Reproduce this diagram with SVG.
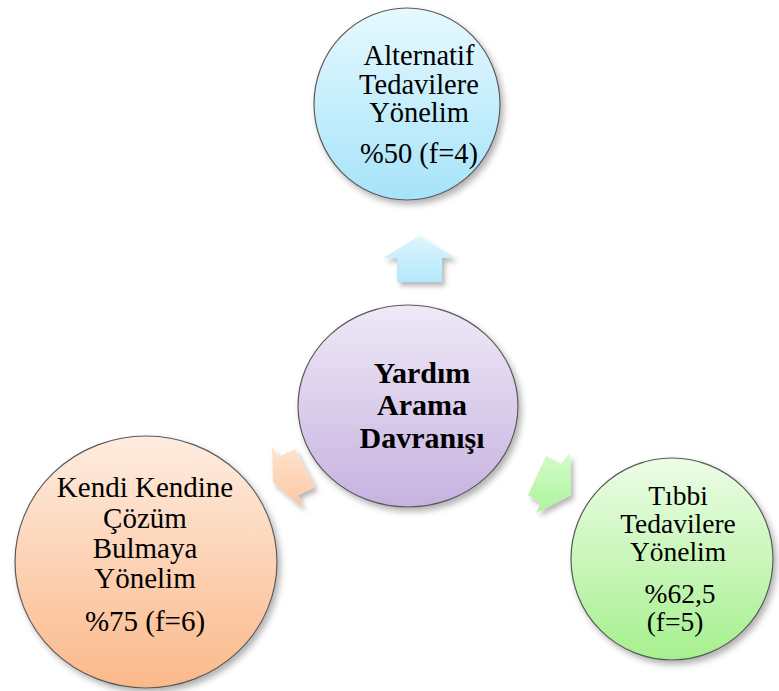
<svg xmlns="http://www.w3.org/2000/svg" width="779" height="691" viewBox="0 0 779 691">
<defs>
<style>
.node{stroke:#5a5a5a;stroke-width:1.2;filter:url(#sh)}
.t{font-family:"Liberation Serif","Times New Roman",serif;font-size:28.5px;fill:#000;text-anchor:middle}
.s{font-size:29px}
.r{font-size:27.5px}
.b{font-weight:bold;font-size:30px}
.arr{filter:url(#sh2)}
</style>
<filter id="sh" x="-20%" y="-20%" width="140%" height="140%">
<feDropShadow dx="3" dy="4" stdDeviation="3" flood-color="#000" flood-opacity="0.3"/>
</filter>
<filter id="sh2" x="-30%" y="-30%" width="160%" height="160%">
<feDropShadow dx="3" dy="4" stdDeviation="2.5" flood-color="#000" flood-opacity="0.28"/>
</filter>
<linearGradient id="gBlue" x1="0" y1="0" x2="0" y2="1">
<stop offset="0" stop-color="#e6f9ff"/><stop offset="1" stop-color="#a6e3f9"/>
</linearGradient>
<linearGradient id="gPurple" x1="0" y1="0" x2="0" y2="1">
<stop offset="0" stop-color="#efe9f7"/><stop offset="1" stop-color="#c6b2e0"/>
</linearGradient>
<linearGradient id="gOrange" x1="0" y1="0" x2="0" y2="1">
<stop offset="0" stop-color="#feece0"/><stop offset="1" stop-color="#fbb98a"/>
</linearGradient>
<linearGradient id="gGreen" x1="0" y1="0" x2="0" y2="1">
<stop offset="0" stop-color="#ecfde6"/><stop offset="1" stop-color="#a6f08e"/>
</linearGradient>
<linearGradient id="aBlue" x1="0" y1="0" x2="0" y2="1">
<stop offset="0" stop-color="#dcf6fe"/><stop offset="1" stop-color="#b2e8fb"/>
</linearGradient>
<linearGradient id="aOrange" x1="0" y1="0" x2="0" y2="1">
<stop offset="0" stop-color="#fee4d0"/><stop offset="1" stop-color="#fdc6a0"/>
</linearGradient>
<linearGradient id="aGreen" x1="0" y1="0" x2="0" y2="1">
<stop offset="0" stop-color="#d4fbc8"/><stop offset="1" stop-color="#abf59c"/>
</linearGradient>
</defs>
<rect width="779" height="691" fill="#fff"/>
<g id="connectors">
<polygon class="arr" fill="url(#aBlue)" points="419,236 455,258 442,258 442,282 397,282 397,258 383,258"/>
<polygon class="arr" fill="url(#aOrange)" points="272,446 278,457 295,449 315,487 298,495 303,508 273,482"/>
<polygon class="arr" fill="url(#aGreen)" points="546,456 561,464 570,453 571,495 536,513 541,503 528,495"/>
</g>
<g id="node-center">
<ellipse class="node" cx="408" cy="406" rx="110" ry="101" fill="url(#gPurple)"/>
<text class="t b" x="422" y="383">Yardım</text>
<text class="t b" x="422" y="415">Arama</text>
<text class="t b" x="422" y="448">Davranışı</text>
</g>
<g id="node-top">
<ellipse class="node" cx="407" cy="104" rx="93" ry="96" fill="url(#gBlue)"/>
<text class="t" x="419" y="65">Alternatif</text>
<text class="t" x="419" y="94">Tedavilere</text>
<text class="t" x="419" y="122">Yönelim</text>
<text class="t" x="419" y="163">%50 (f=4)</text>
</g>
<g id="node-left">
<ellipse class="node" cx="146" cy="562" rx="131" ry="126" fill="url(#gOrange)"/>
<text class="t s" x="145" y="497">Kendi Kendine</text>
<text class="t s" x="145" y="528">Çözüm</text>
<text class="t s" x="145" y="558">Bulmaya</text>
<text class="t s" x="145" y="588">Yönelim</text>
<text class="t s" x="145" y="631">%75 (f=6)</text>
</g>
<g id="node-right">
<ellipse class="node" cx="672" cy="559" rx="101" ry="101" fill="url(#gGreen)"/>
<text class="t r" x="678" y="505">Tıbbi</text>
<text class="t r" x="678" y="533">Tedavilere</text>
<text class="t r" x="678" y="561">Yönelim</text>
<text class="t r" x="680" y="603">%62,5</text>
<text class="t r" x="675" y="631">(f=5)</text>
</g>
</svg>
